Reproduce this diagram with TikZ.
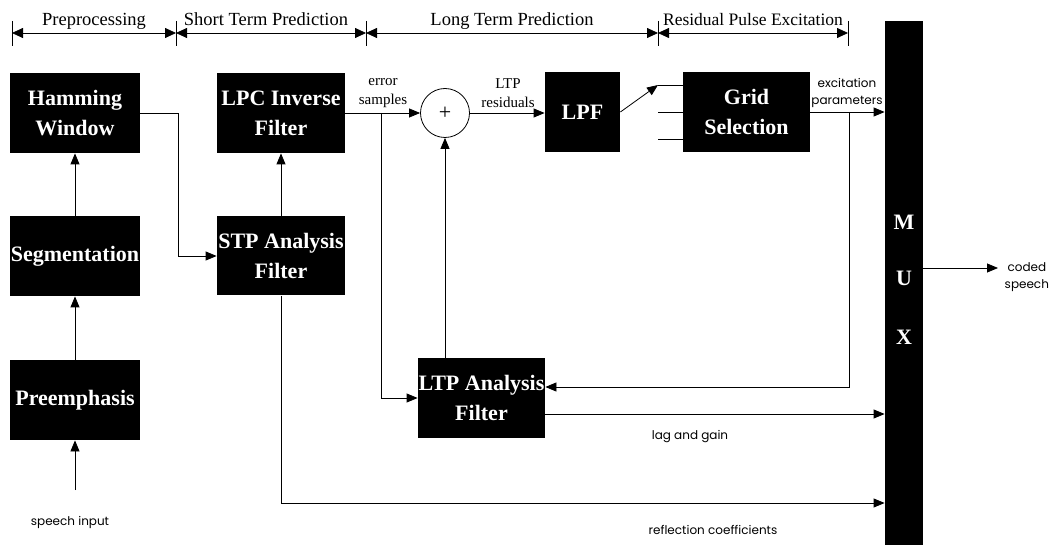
\documentclass[tikz,border=0pt]{standalone}
\usepackage{fontspec}
\setmainfont{Liberation Serif}
\newfontfamily\sansf{Poppins}
\usetikzlibrary{arrows.meta}
\begin{document}
\begin{tikzpicture}[x=1pt,y=-1pt,line width=0.8pt,
  blk/.style={fill=black,text=white,inner sep=0pt,align=center,
    font=\bfseries\fontsize{22}{30}\selectfont},
  arr/.style={-{Triangle[length=11pt,width=9pt]}},
  harr/.style={{Triangle[length=11pt,width=10pt]}-{Triangle[length=11pt,width=10pt]}},
  hdr/.style={anchor=base,font=\fontsize{18.5}{20}\selectfont},
  slab/.style={align=center,font=\fontsize{15}{19}\selectfont},
  sans/.style={align=center,font=\sansf\fontsize{12}{17}\selectfont},
  muxl/.style={text=white,font=\bfseries\fontsize{22}{24}\selectfont}]
\useasboundingbox (0,0) rectangle (1050,545);
\fill[white] (0,0) rectangle (1050,545);

% header
\foreach \n/\x in {t0/12,t1/176,t2/366,t3/658,t4/848}{
  \coordinate (\n) at (\x,33);
  \draw (\x,21) -- (\x,46);
}
\draw[harr] (t0) -- (t1);
\draw[harr] (t1) -- (t2);
\draw[harr] (t2) -- (t3);
\draw[harr] (t3) -- (t4);
\node[hdr] (h1) at (94,26) {Preprocessing};
\node[hdr] (h2) at (266,26) {Short Term Prediction};
\node[hdr] (h3) at (512,26) {Long Term Prediction};
\node[hdr,font=\fontsize{17.5}{20}\selectfont] (h4) at (753,26) {Residual Pulse Excitation};

% boxes
\node[blk,minimum width=130pt,minimum height=80pt] (ham) at (75,113) {Hamming\\Window};
\node[blk,minimum width=130pt,minimum height=80pt] (seg) at (75,256) {Segmentation};
\node[blk,minimum width=130pt,minimum height=80pt] (pre) at (75,400) {Preemphasis};
\node[blk,minimum width=128pt,minimum height=80pt] (lpc) at (281,113) {LPC Inverse\\Filter};
\node[blk,minimum width=128pt,minimum height=79pt] (stp) at (281,256) {STP Analysis\\Filter};
\node[blk,minimum width=127pt,minimum height=80pt] (ltp) at (481.5,398) {LTP Analysis\\Filter};
\node[blk,minimum width=75pt,minimum height=80pt] (lpf) at (582.5,112) {LPF};
\node[blk,minimum width=127pt,minimum height=80pt] (grid) at (746.5,112) {Grid\\Selection};
\node[fill=black,inner sep=0pt,minimum width=38pt,minimum height=524pt] (mux) at (904,283) {};
\node[muxl] (mM) at (904,222) {M};
\node[muxl] (mU) at (904,278) {U};
\node[muxl] (mX) at (904,337) {X};
\node[draw,circle,minimum size=49pt,inner sep=0pt,font=\fontsize{22}{22}\selectfont] (sum) at (445,113) {+};

% coordinates
\coordinate (sin) at (75,490);
\coordinate (br1) at (381,113);
\coordinate (sw) at (658,85);
\coordinate (s2) at (658,112);
\coordinate (s3) at (658,139);
\coordinate (br2) at (849,112);
\coordinate (fb) at (849,387);
\coordinate (lg) at (545,414);
\coordinate (rc) at (281,503);
\coordinate (cs) at (998,268);

% connectors
\draw[arr] (sin) -- (pre.south);
\draw[arr] (pre.north) -- (seg.south);
\draw[arr] (seg.north) -- (ham.south);
\draw[arr] (ham.east) -- ++(38,0) |- (stp.west);
\draw[arr] (stp.north) -- (lpc.south);
\draw[arr] (stp.south) -- (rc) -- (rc -| mux.west);
\draw[arr] (lpc.east) -- (sum.west);
\draw[arr] (br1) |- (ltp.west);
\draw[arr] (ltp.north -| sum.south) -- (sum.south);
\draw[arr] (sum.east) -- (sum.east -| lpf.west);
\draw[arr] (lpf.east) -- (sw);
\draw (sw) -- (sw -| grid.west);
\draw (s2) -- (s2 -| grid.west);
\draw (s3) -- (s3 -| grid.west);
\draw[arr] (grid.east) -- (grid.east -| mux.west);
\draw[arr] (br2) -- (fb) -- (fb -| ltp.east);
\draw[arr] (lg) -- (lg -| mux.west);
\draw[arr] (mux.east |- cs) -- (cs);

% labels
\node[slab] (l1) at (383,93) {error\\samples};
\node[slab] (l2) at (508,93) {LTP\\residuals};
\node[sans] (l3) at (847,93) {excitation\\parameters};
\node[sans] (l4) at (690,437) {lag and gain};
\node[sans] (l5) at (713,530) {reflection coefficients};
\node[sans] (l6) at (70,522) {speech input};
\node[sans,anchor=west] (l7) at (1001,277) {coded\\speech};
\end{tikzpicture}
\end{document}
